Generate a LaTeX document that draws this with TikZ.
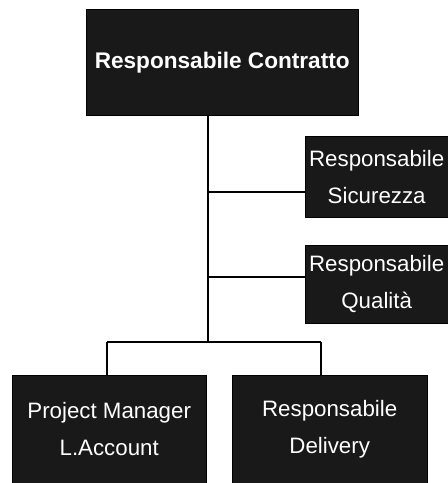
\documentclass[tikz,border=0pt]{standalone}
\usepackage{fontspec}
\setmainfont{Liberation Sans}
\begin{document}
\begin{tikzpicture}[x=1pt,y=-1pt,
  box/.style={draw=black,fill=black!90,text=white,inner sep=0pt,align=center,anchor=north west,
    font=\fontsize{22.3}{37}\selectfont},
  link/.style={draw=black,line width=1.8pt}]
\useasboundingbox[fill=white] (0,0) rectangle (448,483);
\node[box,minimum width=272pt,minimum height=106pt,font=\fontsize{22.6}{27}\selectfont\bfseries] (top) at (86,9) {Responsabile Contratto};
\node[box,minimum width=143pt,minimum height=81pt] (sic) at (305,136) {Responsabile\\Sicurezza};
\node[box,minimum width=143pt,minimum height=78pt] (qual) at (305,245) {Responsabile\\Qualità};
\node[box,minimum width=194pt,minimum height=108pt] (pm) at (12,375) {Project Manager\\L.Account};
\node[box,minimum width=195pt,minimum height=108pt] (del) at (232,375) {Responsabile\\Delivery};
\coordinate (j1) at (208,192);
\coordinate (j2) at (208,277);
\coordinate (j3) at (208,342);
\coordinate (bl) at (107,342);
\coordinate (br) at (321,342);
\draw[link] (top.south -| j3) -- (j3);
\draw[link] (j1) -- (j1 -| sic.west);
\draw[link] (j2) -- (j2 -| qual.west);
\draw[link] (bl) -- (br);
\draw[link] (bl) -- (bl |- pm.north);
\draw[link] (br) -- (br |- del.north);
\end{tikzpicture}
\end{document}
